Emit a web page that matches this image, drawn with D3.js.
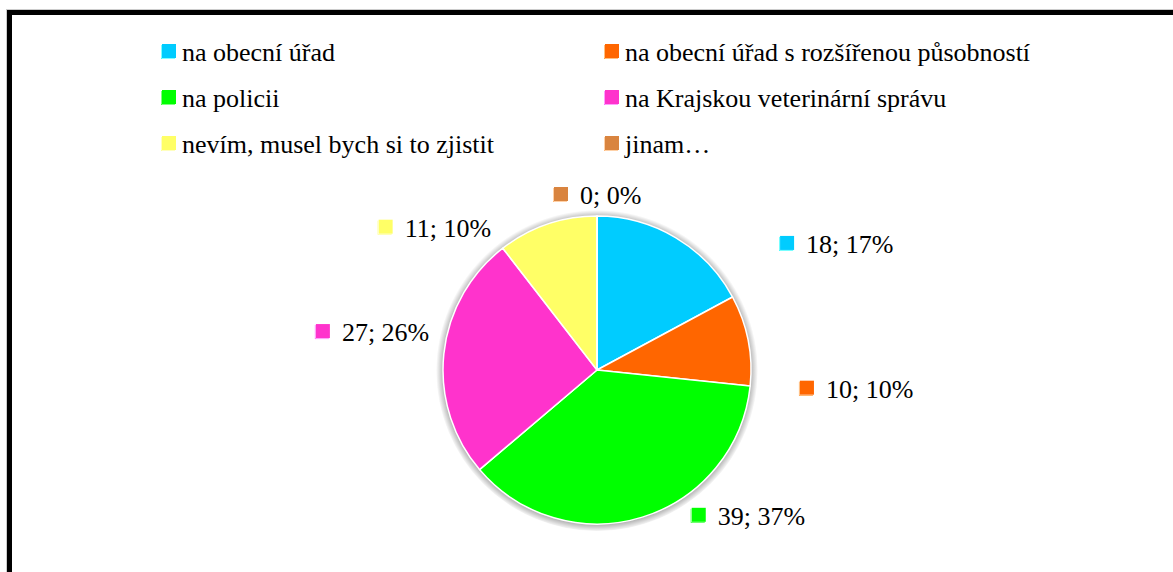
<!DOCTYPE html>
<html>
<head>
<meta charset="utf-8">
<script src="https://cdn.jsdelivr.net/npm/d3@7"></script>
</head>
<body style="margin:0">
<svg id="chart" width="1173" height="572" font-family="Liberation Serif"></svg>
<script>
// ---- data ----
const categories = [
  "na obecní úřad",
  "na obecní úřad s rozšířenou působností",
  "na policii",
  "na Krajskou veterinární správu",
  "nevím, musel bych si to zjistit",
  "jinam…"
];
const values = [18, 10, 39, 27, 11, 0];
const percentLabels = ["17%", "10%", "37%", "26%", "10%", "0%"];
const colors = ["#00CCFF", "#FF6600", "#00FF00", "#FF33CC", "#FFFF66", "#D9843F"];

// ---- layout ----
const W = 1173, H = 572;
const cx = 597, cy = 370, R = 154;
const fontFamily = "Liberation Serif";
const fontSize = 26;
// label nudges relative to outer-arc point at slice mid angle
const labelNudge = [[100, 22], [44, 59], [47, 0], [-120, -12], [-166, 20], [-43, -4]];

const svg = d3.select("#chart");

// radial gradient shadow (no filter)
const defs = svg.append("defs");
const rg = defs.append("radialGradient").attr("id", "shade")
  .attr("gradientUnits", "userSpaceOnUse").attr("cx", 0).attr("cy", 1).attr("r", R + 7);
const shadowStart = R / (R + 7);
rg.append("stop").attr("offset", shadowStart - 0.01).attr("stop-color", "#000").attr("stop-opacity", 0.3);
rg.append("stop").attr("offset", shadowStart).attr("stop-color", "#000").attr("stop-opacity", 0.28);
rg.append("stop").attr("offset", 1).attr("stop-color", "#000").attr("stop-opacity", 0);

svg.append("rect").attr("width", W).attr("height", H).attr("fill", "#fff");

svg.append("rect").attr("x", 9.5).attr("y", 12.5).attr("width", W + 20).attr("height", H + 20)
  .attr("fill", "none").attr("stroke", "#000").attr("stroke-width", 5);
svg.append("rect").attr("x", 6.5).attr("y", 9.5).attr("width", W + 20).attr("height", H + 20)
  .attr("fill", "none").attr("stroke", "#ccc").attr("stroke-width", 1);

function swatch(g, x, y, color) {
  g.append("rect").attr("x", x - 1).attr("y", y + 1).attr("width", 14).attr("height", 14)
    .attr("fill", d3.color(color).brighter(0.6)).attr("stroke", "none");
  g.append("rect").attr("x", x - 0.5).attr("y", y + 0.5).attr("width", 14).attr("height", 14)
    .attr("fill", "#fff");
  g.append("rect").attr("x", x).attr("y", y).attr("width", 14).attr("height", 14)
    .attr("fill", color);
}

const texts = [];

const legCol = d3.scaleOrdinal().domain([0, 1]).range([162, 605]);
const legRow = d3.scaleLinear().domain([0, 1]).range([61, 107]);
const legend = svg.append("g");
categories.forEach((c, i) => {
  const col = i % 2, row = Math.floor(i / 2);
  const x = legCol(col), y = legRow(row);
  const g = legend.append("g");
  swatch(g, x, y - 17, colors[i]);
  texts.push(g.append("text").attr("x", x + 20).attr("y", y)
    .attr("font-family", fontFamily)
    .attr("font-size", fontSize).attr("fill", "#000")
    .text(c));
});

const pie = d3.pie().sort(null).value(d => d)
  .startAngle(0).endAngle(2 * Math.PI);
const arcs = pie(values);
const arc = d3.arc().innerRadius(0).outerRadius(R);

const pg = svg.append("g").attr("transform", `translate(${cx},${cy})`);
pg.append("circle").attr("r", R + 7).attr("cy", 0).attr("fill", "url(#shade)");
pg.selectAll("path").data(arcs).join("path")
  .attr("d", arc)
  .attr("fill", (d, i) => colors[i])
  .attr("stroke", "#fff").attr("stroke-width", 1.5).attr("stroke-linejoin", "round");

const lg = svg.append("g");
arcs.forEach((d, i) => {
  const mid = (d.startAngle + d.endAngle) / 2;
  const px = cx + (R + 8) * Math.sin(mid) + labelNudge[i][0];
  const py = cy - (R + 8) * Math.cos(mid) + labelNudge[i][1];
  const g = lg.append("g");
  swatch(g, px, py - 17, colors[i]);
  texts.push(g.append("text").attr("x", px + 26).attr("y", py)
    .attr("font-family", fontFamily)
    .attr("font-size", fontSize).attr("fill", "#000")
    .text(`${values[i]}; ${percentLabels[i]}`));
});

// re-apply font once fonts are ready, to force re-layout with the serif face
if (document.fonts && document.fonts.load) {
  document.fonts.load(`${fontSize}px "${fontFamily}"`).then(() => {
    texts.forEach(t => t.attr("font-family", fontFamily));
  });
}
</script>
</body>
</html>
